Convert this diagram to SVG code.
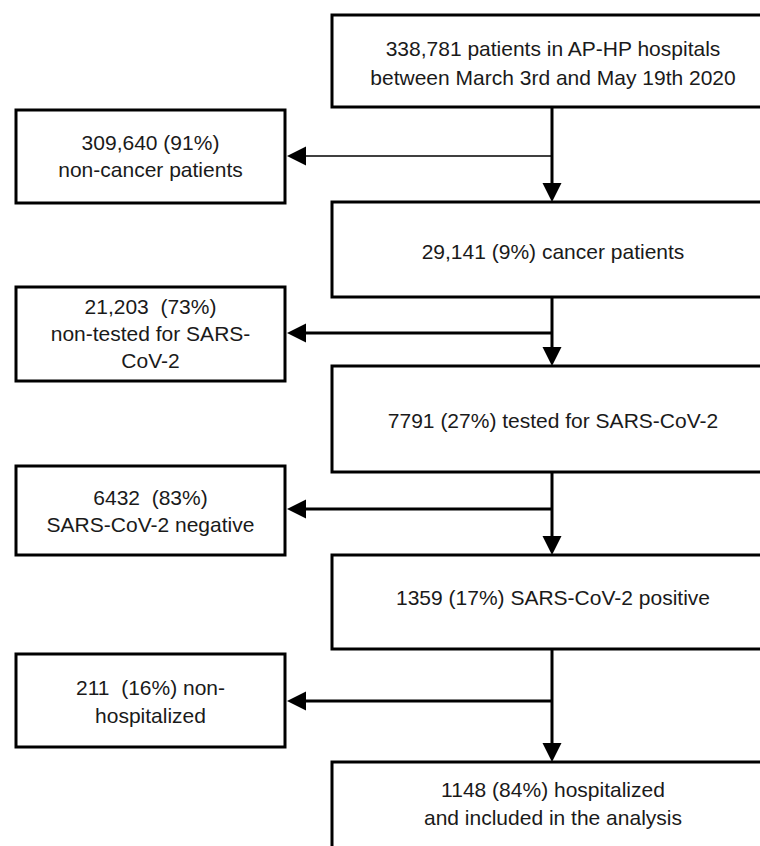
<svg xmlns="http://www.w3.org/2000/svg" width="760" height="846" viewBox="0 0 760 846">
<style>
.box{fill:#fff;stroke:#000;stroke-width:3}
.t{font-family:"Liberation Sans",Arial,sans-serif;font-size:21px;fill:#1a1a1a;text-anchor:middle;white-space:pre}
.c{fill:none;stroke:#000;stroke-width:3}
.thin{stroke-width:1.6}
</style>
<defs>
<marker id="ah" markerUnits="userSpaceOnUse" markerWidth="20" markerHeight="20" refX="9" refY="9.5" orient="auto">
<path d="M0,0 L19,9.5 L0,19 z" fill="#000"/>
</marker>
</defs>
<rect width="760" height="846" fill="#fff"/>
<g id="connectors">
<path class="c" d="M552,107 V192" marker-end="url(#ah)"/>
<path class="c thin" d="M552,156 H297" marker-end="url(#ah)"/>
<path class="c" d="M552,297 V356" marker-end="url(#ah)"/>
<path class="c" d="M552,333 H297" marker-end="url(#ah)"/>
<path class="c" d="M552,472 V545" marker-end="url(#ah)"/>
<path class="c" d="M552,509 H297" marker-end="url(#ah)"/>
<path class="c" d="M552,649 V752" marker-end="url(#ah)"/>
<path class="c" d="M552,701 H297" marker-end="url(#ah)"/>
</g>
<g id="n1">
<rect class="box" x="332" y="15" width="446" height="92"/>
<text class="t" x="553" y="56">338,781 patients in AP-HP hospitals</text>
<text class="t" x="553" y="85">between March 3rd and May 19th 2020</text>
</g>
<g id="n2">
<rect class="box" x="16" y="110" width="269" height="93"/>
<text class="t" x="150.5" y="150">309,640 (91%)</text>
<text class="t" x="150.5" y="177">non-cancer patients</text>
</g>
<g id="n3">
<rect class="box" x="332" y="202" width="446" height="95"/>
<text class="t" x="553" y="259">29,141 (9%) cancer patients</text>
</g>
<g id="n4">
<rect class="box" x="16" y="287" width="269" height="94"/>
<text class="t" x="150.5" y="314" xml:space="preserve">21,203  (73%)</text>
<text class="t" x="150.5" y="341">non-tested for SARS-</text>
<text class="t" x="150.5" y="368">CoV-2</text>
</g>
<g id="n5">
<rect class="box" x="332" y="366" width="446" height="106"/>
<text class="t" x="553" y="428">7791 (27%) tested for SARS-CoV-2</text>
</g>
<g id="n6">
<rect class="box" x="16" y="466" width="269" height="89"/>
<text class="t" x="150.5" y="505" xml:space="preserve">6432  (83%)</text>
<text class="t" x="150.5" y="532">SARS-CoV-2 negative</text>
</g>
<g id="n7">
<rect class="box" x="332" y="555" width="446" height="94"/>
<text class="t" x="553" y="605">1359 (17%) SARS-CoV-2 positive</text>
</g>
<g id="n8">
<rect class="box" x="16" y="654" width="269" height="93"/>
<text class="t" x="150.5" y="695" xml:space="preserve">211  (16%) non-</text>
<text class="t" x="150.5" y="723">hospitalized</text>
</g>
<g id="n9">
<rect class="box" x="332" y="762" width="446" height="100"/>
<text class="t" x="553" y="797">1148 (84%) hospitalized</text>
<text class="t" x="553" y="825">and included in the analysis</text>
</g>
</svg>
